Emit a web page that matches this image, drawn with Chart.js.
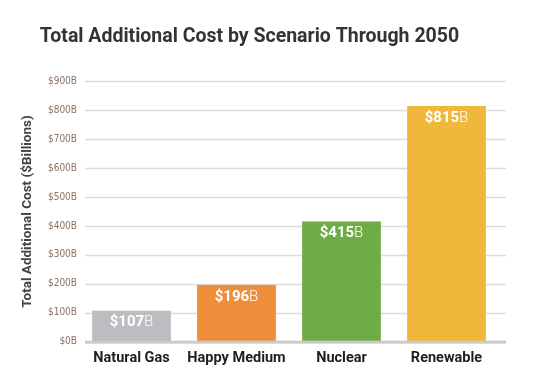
<!DOCTYPE html>
<html>
<head>
<meta charset="utf-8">
<script src="https://cdn.jsdelivr.net/npm/chart.js@4"></script>
<style>
  html, body { margin: 0; padding: 0; background: #fff; }
  #wrap { width: 555px; height: 386px; }
</style>
</head>
<body>
<div id="wrap"><canvas id="costChart" width="555" height="386"></canvas></div>
<script>
const scenarios = ["Natural Gas", "Happy Medium", "Nuclear", "Renewable"];
const costBillions = [107, 196, 415, 815];
const barColors = ["#bcbdc0", "#ee8e3a", "#6fac46", "#f0b83a"];
const yTicks = [0, 100, 200, 300, 400, 500, 600, 700, 800, 900];

// horizontal grid lines reach a bit past the plot area on both sides
const gridPlugin = {
    id: "grid",
    beforeDatasetsDraw(chart) {
        const { ctx, chartArea, scales } = chart;
        ctx.save();
        yTicks.forEach(v => {
            const y = Math.round(scales.y.getPixelForValue(v)) + 0.5;
            ctx.beginPath();
            ctx.strokeStyle = "#dcdcdc";
            ctx.lineWidth = 1.5;
            ctx.moveTo(chartArea.left + 6, y);
            ctx.lineTo(chartArea.right + 7, y);
            ctx.stroke();
        });
        ctx.restore();
    },
    afterDatasetsDraw(chart) {
        const { ctx, chartArea, scales } = chart;
        const y0 = scales.y.getPixelForValue(0);
        ctx.save();
        ctx.fillStyle = "rgba(200,200,200,0.9)";
        ctx.fillRect(chartArea.left + 6, y0 - 1, chartArea.right - chartArea.left + 1, 3);

        // value labels: bold number + light "B"
        const meta = chart.getDatasetMeta(0);
        meta.data.forEach((bar, i) => {
            const num = "$" + costBillions[i];
            ctx.font = "bold 15px Roboto";
            const w1 = ctx.measureText(num).width;
            ctx.font = "300 15px Roboto";
            const w2 = ctx.measureText("B").width;
            const x = bar.x - (w1 + w2) / 2;
            const y = bar.y + 12;
            ctx.textBaseline = "middle";
            ctx.textAlign = "left";
            ctx.fillStyle = "#ffffff";
            ctx.font = "bold 15px Roboto";
            ctx.fillText(num, x, y);
            ctx.font = "300 15px Roboto";
            ctx.fillText("B", x + w1, y);
        });
        ctx.restore();
    }
};

new Chart(document.getElementById("costChart"), {
    type: "bar",
    data: {
        labels: scenarios,
        datasets: [{
            data: costBillions,
            backgroundColor: barColors,
            borderWidth: 0,
            barPercentage: 0.75,
            categoryPercentage: 1.0
        }]
    },
    options: {
        responsive: false,
        animation: false,
        layout: { padding: { left: 0, right: 56, top: 17, bottom: 11 } },
        plugins: {
            legend: { display: false },
            tooltip: { enabled: false },
            title: {
                display: true,
                text: "Total Additional Cost by Scenario Through 2050",
                color: "#333333",
                font: { family: "Roboto", size: 19.5, weight: "bold" },
                padding: { top: 8, bottom: 33 }
            }
        },
        scales: {
            x: {
                grid: { display: false, drawTicks: false },
                border: { display: false },
                ticks: {
                    color: "#1e1e1e",
                    font: { family: "Roboto", size: 14.5, weight: "bold" },
                    padding: 8
                }
            },
            y: {
                min: 0,
                max: 900,
                afterFit(scale) { scale.width = 79; },
                afterBuildTicks(scale) { scale.ticks = yTicks.map(v => ({ value: v })); },
                grid: { display: false, drawTicks: false },
                border: { display: false },
                ticks: {
                    color: "#8c7264",
                    font: { family: "'Liberation Sans Narrow', 'DejaVu Sans Condensed', Roboto, sans-serif", size: 10 },
                    padding: 2,
                    callback: v => "$" + v + "B"
                },
                title: {
                    display: true,
                    text: "Total Additional Cost ($Billions)",
                    color: "#444444",
                    font: { family: "Roboto", size: 13.5, weight: "bold" },
                    padding: { top: 20, bottom: 8 }
                }
            }
        }
    },
    plugins: [gridPlugin]
});
</script>
</body>
</html>
